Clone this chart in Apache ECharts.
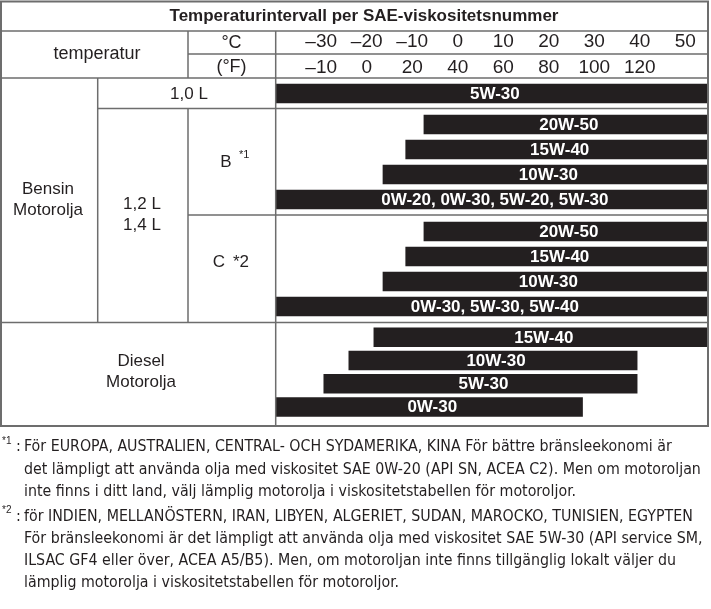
<!DOCTYPE html>
<html lang="sv">
<head>
<meta charset="UTF-8">
<title>Temperaturintervall per SAE-viskositetsnummer</title>
<style>
    html, body { margin: 0; padding: 0; background: #fff; }
    #chart { width: 711px; height: 609px; }
</style>
</head>
<body>
<div id="chart"></div>
<script src="https://cdn.jsdelivr.net/npm/echarts@6/dist/echarts.min.js"></script>
<script>
    // tick labels of the two header rows (°F row sits under the °C row)
    var tempC = [-30, -20, -10, 0, 10, 20, 30, 40, 50];
    var tempF = [-10, 0, 20, 40, 60, 80, 100, 120];

    // 1,0 L
    var oil10 = ['5W-30'];
    var oil10From = [-40];
    var oil10To = [55];

    // 1,2 L / 1,4 L, B
    var oilB = ['20W-50', '15W-40', '10W-30', '0W-20, 0W-30, 5W-20, 5W-30'];
    var oilBFrom = [-7.5, -11.5, -16.5, -40];
    var oilBTo = [55, 55, 55, 55];

    // 1,2 L / 1,4 L, C
    var oilC = ['20W-50', '15W-40', '10W-30', '0W-30, 5W-30, 5W-40'];
    var oilCFrom = [-7.5, -11.5, -16.5, -40];
    var oilCTo = [55, 55, 55, 55];

    // Diesel
    var oilD = ['15W-40', '10W-30', '5W-30', '0W-30'];
    var oilDFrom = [-18.5, -24, -29.5, -40];
    var oilDTo = [55, 39.5, 39.5, 27.5];

    var note1 = [
        'För EUROPA, AUSTRALIEN, CENTRAL- OCH SYDAMERIKA, KINA För bättre bränsleekonomi är',
        'det lämpligt att använda olja med viskositet SAE 0W-20 (API SN, ACEA C2). Men om motoroljan',
        'inte finns i ditt land, välj lämplig motorolja i viskositetstabellen för motoroljor.'
    ];
    var note2 = [
        'för INDIEN, MELLANÖSTERN, IRAN, LIBYEN, ALGERIET, SUDAN, MAROCKO, TUNISIEN, EGYPTEN',
        'För bränsleekonomi är det lämpligt att använda olja med viskositet SAE 5W-30 (API service SM,',
        'ILSAC GF4 eller över, ACEA A5/B5). Men, om motoroljan inte finns tillgänglig lokalt väljer du',
        'lämplig motorolja i viskositetstabellen för motoroljor.'
    ];

    var myChart = echarts.init(document.getElementById('chart'));

    var INK = '#231f20';
    var LINE = '#6d6d6d';
    var FONT = '"Liberation Sans", Arial, sans-serif';
    var NARROW = '"Liberation Sans Narrow", "DejaVu Sans Condensed", sans-serif';
    var BAR_H = 19.5;

    function dash(v) {
        return v < 0 ? '–' + (-v) : String(v);
    }

    function rows(from, to) {
        var out = [];
        for (var i = 0; i < from.length; i++) out.push([from[i], to[i], i]);
        return out;
    }

    function renderBar(names) {
        return function (params, api) {
            var a = api.coord([api.value(0), api.value(2)]);
            var b = api.coord([api.value(1), api.value(2)]);
            return {
                type: 'group',
                children: [{
                    type: 'rect',
                    shape: {x: a[0], y: a[1] - BAR_H / 2, width: b[0] - a[0], height: BAR_H},
                    style: {fill: INK}
                }, {
                    type: 'text',
                    style: {
                        x: (a[0] + b[0]) / 2 + 3, y: a[1] + 0.5,
                        text: names[params.dataIndex],
                        fill: '#fff', fontSize: 17, fontWeight: 'bold', fontFamily: FONT,
                        align: 'center', verticalAlign: 'middle'
                    }
                }]
            };
        };
    }

    // grids: one per block of rows
    var grids = [
        {left: 275.7, right: 3, top: 83.5, height: 20},
        {left: 275.7, right: 3, top: 112, height: 100},
        {left: 275.7, right: 3, top: 219, height: 100},
        {left: 275.7, right: 3, top: 325.7, height: 93}
    ];

    var hidden = {min: -40, max: 55, type: 'value', show: false};
    var xAxes = [
        {
            type: 'value', gridIndex: 0, position: 'top', offset: 24.5, min: -40, max: 55, interval: 10,
            axisLine: {show: false}, axisTick: {show: false}, splitLine: {show: false},
            axisLabel: {
                margin: 17, verticalAlign: 'middle', color: INK, fontSize: 19, fontFamily: FONT,
                showMinLabel: false, showMaxLabel: false,
                formatter: function (v) { return tempC.indexOf(v) >= 0 ? dash(v) : ''; }
            }
        },
        {
            type: 'value', gridIndex: 0, position: 'top', offset: 0, min: -40, max: 55, interval: 10,
            axisLine: {show: false}, axisTick: {show: false}, splitLine: {show: false},
            axisLabel: {
                margin: 16, verticalAlign: 'middle', color: INK, fontSize: 19, fontFamily: FONT,
                showMinLabel: false, showMaxLabel: false,
                formatter: function (v) {
                    var i = tempC.indexOf(v);
                    return i >= 0 && i < tempF.length ? dash(tempF[i]) : '';
                }
            }
        },
        Object.assign({gridIndex: 1}, hidden),
        Object.assign({gridIndex: 2}, hidden),
        Object.assign({gridIndex: 3}, hidden)
    ];
    var yAxes = [
        {type: 'category', gridIndex: 0, inverse: true, show: false, data: oil10},
        {type: 'category', gridIndex: 1, inverse: true, show: false, data: oilB},
        {type: 'category', gridIndex: 2, inverse: true, show: false, data: oilC},
        {type: 'category', gridIndex: 3, inverse: true, show: false, data: oilD}
    ];

    var series = [
        {type: 'custom', xAxisIndex: 0, yAxisIndex: 0, renderItem: renderBar(oil10), data: rows(oil10From, oil10To), encode: {x: [0, 1], y: 2}},
        {type: 'custom', xAxisIndex: 2, yAxisIndex: 1, renderItem: renderBar(oilB), data: rows(oilBFrom, oilBTo), encode: {x: [0, 1], y: 2}},
        {type: 'custom', xAxisIndex: 3, yAxisIndex: 2, renderItem: renderBar(oilC), data: rows(oilCFrom, oilCTo), encode: {x: [0, 1], y: 2}},
        {type: 'custom', xAxisIndex: 4, yAxisIndex: 3, renderItem: renderBar(oilD), data: rows(oilDFrom, oilDTo), encode: {x: [0, 1], y: 2}}
    ];

    // table rules
    function hline(y, x1, x2, w) {
        return {type: 'line', shape: {x1: x1, y1: y, x2: x2, y2: y}, style: {stroke: LINE, lineWidth: w || 1.5}, z: 10};
    }
    function vline(x, y1, y2, w) {
        return {type: 'line', shape: {x1: x, y1: y1, x2: x, y2: y2}, style: {stroke: LINE, lineWidth: w || 1.5}, z: 10};
    }
    function label(x, y, text, opt) {
        opt = opt || {};
        return {
            type: 'text', z: 10,
            style: {
                x: x, y: y, text: text, fill: INK,
                fontSize: opt.size || 17, fontWeight: opt.weight || 'normal', fontFamily: opt.family || FONT,
                align: opt.align || 'center', verticalAlign: 'middle', lineHeight: opt.lh || 21
            }
        };
    }

    var graphic = [
        {type: 'rect', shape: {x: 1, y: 1.5, width: 707, height: 424.5}, style: {fill: 'none', stroke: LINE, lineWidth: 2}, z: 10},
        hline(31, 1, 708),
        hline(54, 188, 708),
        hline(78, 1, 708),
        hline(108.5, 97.7, 708),
        hline(215, 188, 708),
        hline(322.5, 1, 708),
        vline(188, 31, 78),
        vline(188, 108.5, 322.5),
        vline(97.7, 78, 322.5),
        vline(275.7, 31, 426),

        label(364, 16, 'Temperaturintervall per SAE-viskositetsnummer', {weight: 'bold', size: 17}),
        label(97, 54.5, 'temperatur', {size: 18}),
        label(231.5, 43, '°C', {size: 18}),
        label(231.5, 67, '(°F)', {size: 18}),
        label(189, 94, '1,0 L'),
        label(48, 200, 'Bensin\nMotorolja'),
        label(142, 215, '1,2 L\n1,4 L'),
        label(226, 162, 'B'),
        label(239, 155, '*1', {size: 11, align: 'left'}),
        label(219, 262, 'C'),
        label(233, 262, '*2', {align: 'left'}),
        label(141, 372, 'Diesel\nMotorolja')
    ];

    // footnotes
    var noteY1 = [447, 469.5, 492];
    var noteY2 = [516.5, 539, 561, 583];
    graphic.push(label(2, 441, '*1', {size: 10, align: 'left'}));
    graphic.push(label(16, 447, ':', {size: 16, align: 'left', family: NARROW}));
    graphic.push(label(2, 510, '*2', {size: 10, align: 'left'}));
    graphic.push(label(16, 516.5, ':', {size: 16, align: 'left', family: NARROW}));
    note1.forEach(function (t, i) {
        graphic.push(label(24, noteY1[i], t, {size: 15.8, align: 'left', family: NARROW}));
    });
    note2.forEach(function (t, i) {
        graphic.push(label(24, noteY2[i], t, {size: 15.8, align: 'left', family: NARROW}));
    });

    myChart.setOption({
        animation: false,
        grid: grids,
        xAxis: xAxes,
        yAxis: yAxes,
        series: series,
        graphic: graphic
    });
</script>
</body>
</html>
